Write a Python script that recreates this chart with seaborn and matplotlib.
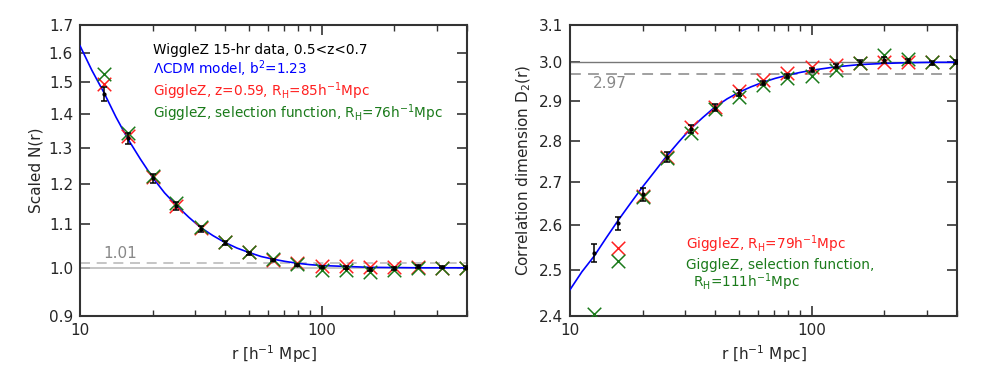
import numpy as np
import pandas as pd
import matplotlib
matplotlib.use("Agg")
import matplotlib.pyplot as plt
from matplotlib.ticker import FixedLocator, NullFormatter, FormatStrFormatter, LogLocator
import seaborn as sns

# radial bins [h^-1 Mpc]
r_bins = [12.6, 15.8, 20.0, 25.1, 31.6, 39.8, 50.1, 63.1, 79.4, 100.0,
          125.9, 158.5, 199.5, 251.2, 316.2, 398.1]

# model curve
r_model = [10.0, 11.2, 12.6, 14.1, 15.8, 17.8, 20.0, 22.4, 25.1, 28.2, 31.6, 35.5,
           39.8, 44.7, 50.1, 56.2, 63.1, 70.8, 79.4, 89.1, 100.0, 125.9, 158.5,
           199.5, 251.2, 316.2, 398.1]
n_model = [1.625, 1.540, 1.465, 1.390, 1.325, 1.268, 1.218, 1.178, 1.146, 1.117,
           1.092, 1.073, 1.057, 1.044, 1.034, 1.025, 1.019, 1.014, 1.010, 1.007,
           1.005, 1.003, 1.001, 1.0005, 1.0, 1.0, 1.0]
d2_model = [2.456, 2.495, 2.530, 2.570, 2.610, 2.650, 2.689, 2.725, 2.762, 2.797,
            2.830, 2.858, 2.884, 2.905, 2.922, 2.936, 2.948, 2.958, 2.966, 2.973,
            2.979, 2.988, 2.994, 2.997, 2.999, 3.0, 3.0]

# left panel: scaled N(r)
n_data = [1.462, 1.327, 1.216, 1.145, 1.088, 1.055, 1.032, 1.017, 1.006, 1.002,
          1.000, 0.997, 0.999, 1.003, 1.002, 1.000]
n_err = [0.022, 0.015, 0.012, 0.010, 0.007, 0.005, 0.004, 0.003, 0.003, 0.003,
         0.003, 0.003, 0.003, 0.003, 0.003, 0.003]
n_giggle = [1.495, 1.334, 1.220, 1.145, 1.092, 1.057, 1.035, 1.018, 1.010, 1.004,
            1.003, 1.002, 1.001, 1.001, 1.000, 1.000]
n_sel = [1.526, 1.343, 1.222, 1.153, 1.094, 1.058, 1.036, 1.019, 1.009, 0.996,
         0.995, 0.990, 0.995, 1.000, 1.000, 1.000]

# right panel: correlation dimension D2(r)
d2_data = [2.536, 2.604, 2.671, 2.760, 2.829, 2.883, 2.920, 2.946, 2.964, 2.979,
           2.990, 3.000, 3.006, 3.003, 2.998, 3.000]
d2_err = [0.020, 0.015, 0.015, 0.012, 0.010, 0.008, 0.007, 0.005, 0.005, 0.005,
          0.005, 0.007, 0.007, 0.006, 0.006, 0.005]
d2_giggle = [np.nan, 2.547, 2.668, 2.760, 2.833, 2.884, 2.926, 2.954, 2.971, 2.988,
             2.992, 2.997, 3.001, 3.002, 3.000, 3.000]
d2_sel = [2.404, 2.520, 2.664, 2.757, 2.820, 2.880, 2.909, 2.940, 2.958, 2.964,
          2.981, 2.997, 3.019, 3.010, 3.002, 3.002]

RED = "#ff2020"
GREEN = "#1a7a1a"
BLUE = "#0000ff"

sns.set_style("ticks")
plt.rcParams["font.family"] = ["DejaVu Sans"]
plt.rcParams["font.size"] = 10

fig = plt.figure(figsize=(9.81, 3.68), dpi=100)
ax1 = fig.add_axes([0.0815, 0.1413, 0.3945, 0.7907])
ax2 = fig.add_axes([0.581, 0.1413, 0.3945, 0.7907])


def draw_panel(ax, model, data, err, giggle, sel, ylim, yticks, ylabel):
    ax.set_xscale("log")
    ax.set_yscale("log")
    sns.lineplot(x=r_model, y=model, ax=ax, color=BLUE, linewidth=1.2, zorder=3)
    frame = pd.DataFrame({"r": r_bins, "giggle": giggle, "sel": sel})
    sns.scatterplot(data=frame, x="r", y="giggle", ax=ax, marker="x", s=95,
                    color=RED, linewidth=1.1, zorder=4)
    sns.scatterplot(data=frame, x="r", y="sel", ax=ax, marker="x", s=95,
                    color=GREEN, linewidth=1.1, zorder=5)
    ax.errorbar(r_bins, data, yerr=err, fmt="o", color="black", markersize=2,
                elinewidth=1.1, capsize=2.5, capthick=1.1, zorder=6)
    ax.set_xlim(10, 400)
    ax.set_ylim(*ylim)
    ax.yaxis.set_major_locator(FixedLocator(yticks))
    ax.yaxis.set_major_formatter(FormatStrFormatter("%.1f"))
    ax.yaxis.set_minor_locator(FixedLocator([]))
    ax.yaxis.set_minor_formatter(NullFormatter())
    ax.xaxis.set_major_locator(FixedLocator([10, 100]))
    ax.xaxis.set_major_formatter(FormatStrFormatter("%d"))
    ax.xaxis.set_minor_locator(LogLocator(base=10, subs=np.arange(2, 10)))
    ax.xaxis.set_minor_formatter(NullFormatter())
    ax.tick_params(which="both", direction="in", top=True, right=True,
                   labelsize=11, color="#333333")
    ax.tick_params(which="major", length=7, width=1.2, pad=5)
    ax.tick_params(which="minor", length=4, width=1.0)
    for s in ax.spines.values():
        s.set_linewidth(1.5)
        s.set_color("#333333")
    ax.set_xlabel("r [h$^{-1}$ Mpc]", fontsize=11)
    ax.set_ylabel(ylabel, fontsize=11)


draw_panel(ax1, n_model, n_data, n_err, n_giggle, n_sel, (0.9, 1.7),
           [0.9, 1.0, 1.1, 1.2, 1.3, 1.4, 1.5, 1.6, 1.7], "Scaled N(r)")
ax1.axhline(1.0, color="#bbbbbb", linewidth=1.2, zorder=1)
ax1.axhline(1.01, color="#bbbbbb", linewidth=1.2, linestyle=(0, (6, 4)), zorder=1)
ax1.text(12.5, 1.022, "1.01", color="#888888", fontsize=11)

tx = 0.19
fs = 9.8
ax1.text(tx, 0.90, "WiggleZ 15-hr data, 0.5<z<0.7", transform=ax1.transAxes,
         color="black", fontsize=fs)
ax1.text(tx, 0.83, "$\\Lambda$CDM model, b$^2$=1.23", transform=ax1.transAxes,
         color=BLUE, fontsize=fs)
ax1.text(tx, 0.755, "GiggleZ, z=0.59, R$_\\mathrm{H}$=85h$^{-1}$Mpc",
         transform=ax1.transAxes, color=RED, fontsize=fs)
ax1.text(tx, 0.68, "GiggleZ, selection function, R$_\\mathrm{H}$=76h$^{-1}$Mpc",
         transform=ax1.transAxes, color=GREEN, fontsize=fs)

draw_panel(ax2, d2_model, d2_data, d2_err, d2_giggle, d2_sel, (2.4, 3.1),
           [2.4, 2.5, 2.6, 2.7, 2.8, 2.9, 3.0, 3.1], "Correlation dimension D$_2$(r)")
ax2.axhline(3.0, color="#777777", linewidth=1.0, zorder=1)
ax2.axhline(2.97, color="#999999", linewidth=1.3, linestyle=(0, (6, 4)), zorder=1)
ax2.text(12.5, 2.932, "2.97", color="#888888", fontsize=11)

ax2.text(0.30, 0.23, "GiggleZ, R$_\\mathrm{H}$=79h$^{-1}$Mpc", transform=ax2.transAxes,
         color=RED, fontsize=fs)
ax2.text(0.30, 0.162, "GiggleZ, selection function,", transform=ax2.transAxes,
         color=GREEN, fontsize=fs)
ax2.text(0.318, 0.10, "R$_\\mathrm{H}$=111h$^{-1}$Mpc", transform=ax2.transAxes,
         color=GREEN, fontsize=fs)

fig.savefig("out.png", dpi=100)
